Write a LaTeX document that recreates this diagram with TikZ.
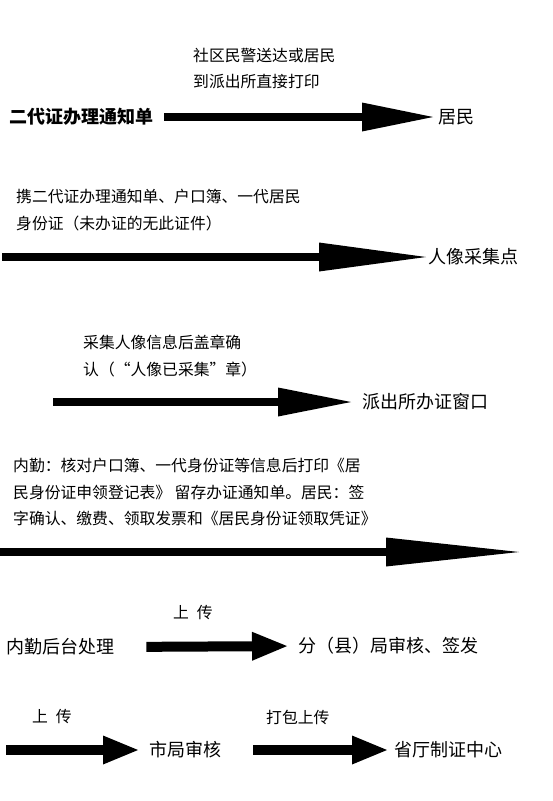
\documentclass[tikz,border=0pt]{standalone}
\usepackage{fontspec}
\usetikzlibrary{arrows.meta}
\newfontfamily\cjk{Noto Sans CJK SC}
\def\labsize{\fontsize{15.8}{26.5}\selectfont}
\def\boxsize{\fontsize{18}{22}\selectfont}

\begin{document}
\begin{tikzpicture}[x=1pt, y=-1pt,
    every node/.style={inner sep=0pt, anchor=west, font=\cjk},
    lab/.style={align=left, font=\cjk\labsize},
    stage/.style={font=\cjk\boxsize},
    bigarrow/.style={line width=7.5pt, -{Triangle[length=#1, width=29pt, line width=0pt]}}]
  \useasboundingbox (0,0) rectangle (553,801);

  \node[stage] (card) at (9, 117) {\bfseries 二代证办理通知单};
  \node[stage] (resident) at (438, 117) {居民};
  \node[lab] (lab1) at (193, 68.5) {社区民警送达或居民\\到派出所直接打印};
  \draw[bigarrow=71pt, shorten <=11pt, shorten >=5pt] (card.east) -- (resident.west);

  \node[lab] (lab2) at (16, 210) {携二代证办理通知单、户口簿、一代居民\\身份证（未办证的无此证件）};
  \coordinate (s2) at (2, 257);
  \node[stage] (portrait) at (428, 257) {人像采集点};
  \draw[bigarrow=107pt, shorten >=2pt] (s2) -- (portrait.west);

  \node[lab] (lab3) at (83, 356) {采集人像信息后盖章确\\认（“人像已采集”章）};
  \coordinate (s3) at (53, 402);
  \node[stage] (window) at (362, 402) {派出所办证窗口};
  \draw[bigarrow=73pt, shorten >=11pt] (s3) -- (window.west);

  \node[lab] (lab4) at (13, 492) {内勤：核对户口簿、一代身份证等信息后打印《居\\民身份证申领登记表》 留存办证通知单。居民：签\\字确认、缴费、领取发票和《居民身份证领取凭证》};
  \coordinate (s4) at (0, 552);
  \coordinate (e4) at (519, 552);
  \draw[bigarrow=133pt] (s4) -- (e4);

  \node[stage] (backend) at (6, 647) {内勤后台处理};
  \node[lab] (lab5) at (173, 613) {上\enspace 传};
  \node[stage] (county) at (298, 646) {分（县）局审核、签发};
  \draw[bigarrow=35pt, line width=10pt, shorten <=32pt, shorten >=11pt] (backend.east) -- (county.west);

  \node[lab] (lab6) at (32, 717) {上\enspace 传};
  \coordinate (s6) at (6, 750);
  \node[stage] (city) at (149, 750) {市局审核};
  \draw[bigarrow=35pt, line width=10pt, shorten >=11pt] (s6) -- (city.west);

  \node[lab] (lab7) at (266, 717) {打包上传};
  \node[stage] (province) at (394, 750) {省厅制证中心};
  \draw[bigarrow=35pt, line width=10pt, shorten <=32pt, shorten >=7pt] (city.east) -- (province.west);
\end{tikzpicture}
\end{document}
